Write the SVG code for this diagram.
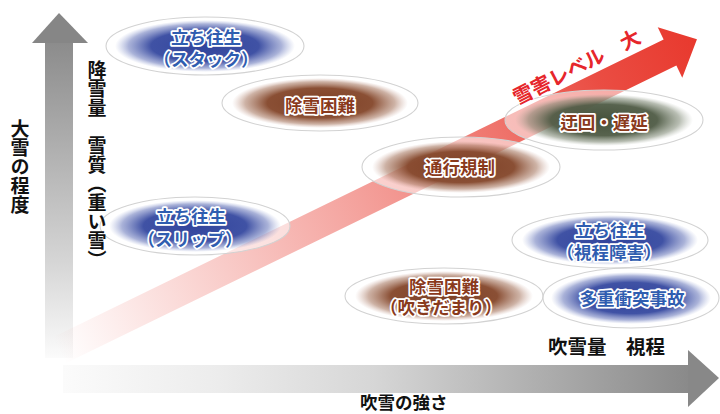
<svg xmlns="http://www.w3.org/2000/svg" width="720" height="414" viewBox="0 0 720 414">
<defs>
<style>
.t{font-family:"Noto Sans CJK JP","Noto Sans",sans-serif;font-weight:700;dominant-baseline:central;text-anchor:middle}
.ax{font-family:"Noto Sans CJK JP","Noto Sans",sans-serif;font-weight:700;fill:#111}
.lbl{font-size:17.5px;stroke:#fff;stroke-width:3.5px;stroke-linejoin:round;paint-order:stroke}
.blue{fill:#2f5db0}
.brown{fill:#8a3a1c}
.ring{fill:#fff;fill-opacity:0.55;stroke:#d2d2d2;stroke-width:1.1}
.half{font-feature-settings:"halt"}
</style>
<linearGradient id="gv" x1="0" y1="43" x2="0" y2="358" gradientUnits="userSpaceOnUse">
<stop offset="0" stop-color="#8c8c8c"/>
<stop offset="0.7" stop-color="#d6d6d6"/>
<stop offset="1" stop-color="#fbfbfb"/>
</linearGradient>
<linearGradient id="gh" x1="63" y1="0" x2="688" y2="0" gradientUnits="userSpaceOnUse">
<stop offset="0" stop-color="#fbfbfb"/>
<stop offset="0.25" stop-color="#ececec"/>
<stop offset="0.5" stop-color="#d6d6d6"/>
<stop offset="1" stop-color="#8a8a8a"/>
</linearGradient>
<linearGradient id="gr" x1="-680" y1="0" x2="30" y2="0" gradientUnits="userSpaceOnUse">
<stop offset="0" stop-color="#e8392e" stop-opacity="0"/>
<stop offset="0.22" stop-color="#e8392e" stop-opacity="0.22"/>
<stop offset="0.47" stop-color="#e8392e" stop-opacity="0.47"/>
<stop offset="0.69" stop-color="#e8392e" stop-opacity="0.7"/>
<stop offset="0.85" stop-color="#e8392e" stop-opacity="0.9"/>
<stop offset="1" stop-color="#e8392e" stop-opacity="1"/>
</linearGradient>
<radialGradient id="rb">
<stop offset="0" stop-color="#31449c" stop-opacity="1"/>
<stop offset="0.6" stop-color="#3649a0" stop-opacity="0.95"/>
<stop offset="0.85" stop-color="#5566b2" stop-opacity="0.5"/>
<stop offset="1" stop-color="#8090cc" stop-opacity="0"/>
</radialGradient>
<radialGradient id="rn">
<stop offset="0" stop-color="#7c3f24" stop-opacity="1"/>
<stop offset="0.6" stop-color="#84462a" stop-opacity="0.95"/>
<stop offset="0.85" stop-color="#9c664c" stop-opacity="0.5"/>
<stop offset="1" stop-color="#c09080" stop-opacity="0"/>
</radialGradient>
<radialGradient id="rg">
<stop offset="0" stop-color="#46523c" stop-opacity="1"/>
<stop offset="0.6" stop-color="#4f5b45" stop-opacity="0.95"/>
<stop offset="0.85" stop-color="#717c66" stop-opacity="0.5"/>
<stop offset="1" stop-color="#a0a898" stop-opacity="0"/>
</radialGradient>
</defs>

<g id="axes">
<g id="axis-y">
<rect x="45" y="43" width="28" height="315" fill="url(#gv)"/>
<polygon points="32,43 59,13 88,43" fill="#868686"/>
</g>
<g id="axis-x">
<rect x="63" y="365" width="625" height="28" fill="url(#gh)"/>
<polygon points="688,350 719,378 688,407" fill="#888"/>
</g>
</g>

<g id="connectors">
<path id="level-arrow" transform="translate(670 52.5) rotate(-26)" d="M -680 -14.5 L 0 -14.5 L 0 -28 L 30 0 L 0 28 L 0 14.5 L -680 14.5 Z" fill="url(#gr)"/>
</g>

<g id="node-stack">
<ellipse class="ring" cx="205" cy="46" rx="99" ry="29"/>
<ellipse cx="205" cy="46" rx="90" ry="26" fill="url(#rb)"/>
<text class="t lbl blue"><tspan x="206" y="36">立ち往生</tspan><tspan class="half" x="206" y="58">（スタック）</tspan></text>
</g>

<g id="node-josetsu">
<ellipse class="ring" cx="320" cy="103" rx="98" ry="28"/>
<ellipse cx="320" cy="103" rx="88" ry="25" fill="url(#rn)"/>
<text class="t lbl brown" x="320" y="104.5">除雪困難</text>
</g>

<g id="node-tsuko">
<ellipse class="ring" cx="461" cy="167" rx="99" ry="30"/>
<ellipse cx="461" cy="167" rx="89" ry="26" fill="url(#rn)"/>
<text class="t lbl brown" x="460" y="166">通行規制</text>
</g>

<g id="node-ukai">
<ellipse class="ring" cx="604" cy="120" rx="99" ry="30"/>
<ellipse cx="604" cy="120" rx="89" ry="26" fill="url(#rg)"/>
<text class="t lbl brown" x="604" y="121.5">迂回・遅延</text>
</g>

<g id="node-slip">
<ellipse class="ring" cx="195" cy="226" rx="95" ry="29"/>
<ellipse cx="195" cy="226" rx="86" ry="26" fill="url(#rb)"/>
<text class="t lbl blue"><tspan x="191" y="214.5">立ち往生</tspan><tspan class="half" x="190" y="237.5">（スリップ）</tspan></text>
</g>

<g id="node-shitei">
<ellipse class="ring" cx="610" cy="240" rx="98" ry="28"/>
<ellipse cx="610" cy="240" rx="88" ry="25" fill="url(#rb)"/>
<text class="t lbl blue"><tspan x="610" y="228.5">立ち往生</tspan><tspan class="half" x="609" y="250.5">（視程障害）</tspan></text>
</g>

<g id="node-fukidamari">
<ellipse class="ring" cx="444" cy="296" rx="99" ry="28"/>
<ellipse cx="444" cy="296" rx="89" ry="25" fill="url(#rn)"/>
<text class="t lbl brown"><tspan x="444" y="284.5">除雪困難</tspan><tspan class="half" x="441" y="306">（吹きだまり）</tspan></text>
</g>

<g id="node-tajuu">
<ellipse class="ring" cx="631" cy="298" rx="88" ry="30"/>
<ellipse cx="631" cy="298" rx="80" ry="26" fill="url(#rb)"/>
<text class="t lbl blue" x="632" y="297">多重衝突事故</text>
</g>

<g id="labels">
<text class="t" x="576" y="66" transform="rotate(-27 576 66)" font-size="20" fill="#e6262b" stroke="#fff" stroke-width="2" paint-order="stroke">雪害レベル　大</text>
<text class="ax" x="20" y="119" font-size="19" style="writing-mode:vertical-rl">大雪の程度</text>
<text class="ax" x="97" y="60" font-size="19" style="writing-mode:vertical-rl">降雪量　雪質（重い雪）</text>
<text class="ax" x="548" y="354" font-size="19.5">吹雪量　視程</text>
<text class="ax" x="360" y="409" font-size="17.5">吹雪の強さ</text>
</g>
</svg>
